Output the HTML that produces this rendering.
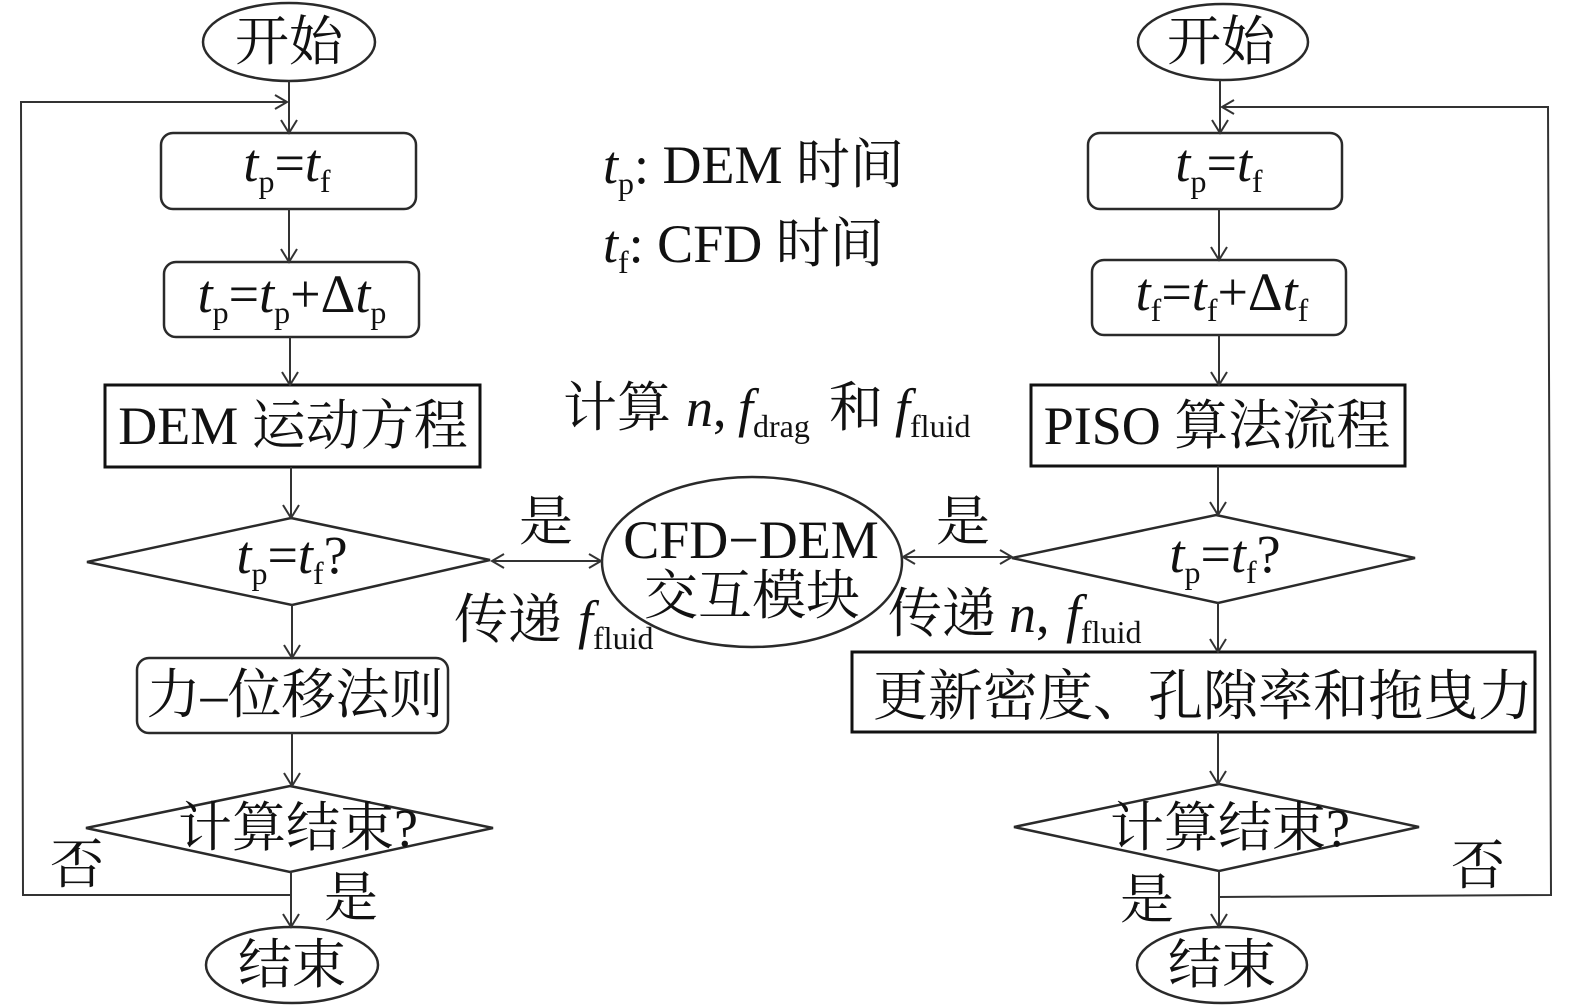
<!DOCTYPE html>
<html><head><meta charset="utf-8">
<style>
html,body{margin:0;padding:0;background:#fff;}
svg{display:block;}
text{font-family:"Liberation Serif","Noto Serif CJK SC",serif;font-size:54px;fill:#111;}
.s{font-size:32px;font-style:normal;}
.i{font-style:italic;}
</style></head>
<body>
<svg width="1575" height="1008" viewBox="0 0 1575 1008" xmlns="http://www.w3.org/2000/svg">
<g fill="none" stroke="#2a2a2a" stroke-width="2.5">
  <!-- LEFT shapes -->
  <ellipse cx="289" cy="42" rx="86" ry="39"/>
  <rect x="161" y="133" width="255" height="76" rx="12"/>
  <rect x="164" y="262" width="255" height="75" rx="12"/>
  <rect x="105" y="385" width="375" height="82" stroke="#111" stroke-width="3"/>
  <polygon points="291,518 490,560 292,605 87,562"/>
  <rect x="137" y="658" width="311" height="75" rx="12"/>
  <polygon points="290,786 493,828 290,872 86,828"/>
  <ellipse cx="292" cy="965" rx="86" ry="38"/>
  <!-- RIGHT shapes -->
  <ellipse cx="1223" cy="42" rx="85" ry="38"/>
  <rect x="1088" y="133" width="254" height="76" rx="12"/>
  <rect x="1092" y="260" width="254" height="75" rx="12"/>
  <rect x="1031" y="385" width="374" height="81" stroke="#111" stroke-width="3"/>
  <polygon points="1216,515 1415,558 1218,603 1012,558"/>
  <rect x="852" y="652" width="683" height="80" stroke="#111" stroke-width="3"/>
  <polygon points="1219,784 1419,827 1219,871 1014,827"/>
  <ellipse cx="1222" cy="965" rx="85" ry="38"/>
  <!-- CENTER -->
  <ellipse cx="752" cy="562" rx="150" ry="85"/>
</g>

<g fill="none" stroke="#333" stroke-width="2">
  <!-- left verticals -->
  <line x1="289" y1="81" x2="289" y2="133"/><polyline points="281,120 289,133 297,120"/>
  <line x1="289" y1="209" x2="289" y2="262"/><polyline points="281,249 289,262 297,249"/>
  <line x1="290" y1="337" x2="290" y2="385"/><polyline points="282,372 290,385 298,372"/>
  <line x1="291" y1="467" x2="291" y2="518"/><polyline points="283,505 291,518 299,505"/>
  <line x1="292" y1="605" x2="292" y2="658"/><polyline points="284,645 292,658 300,645"/>
  <line x1="292" y1="733" x2="292" y2="786"/><polyline points="284,773 292,786 300,773"/>
  <line x1="291" y1="872" x2="291" y2="927"/><polyline points="283,914 291,927 299,914"/>
  <!-- left loop -->
  <polyline points="291,895 23,895 21,102 287,102"/>
  <polyline points="275,95 287,102 275,109"/>
  <!-- right verticals -->
  <line x1="1220" y1="80" x2="1220" y2="133"/><polyline points="1212,120 1220,133 1228,120"/>
  <line x1="1219" y1="209" x2="1219" y2="260"/><polyline points="1211,247 1219,260 1227,247"/>
  <line x1="1219" y1="335" x2="1219" y2="385"/><polyline points="1211,372 1219,385 1227,372"/>
  <line x1="1218" y1="466" x2="1218" y2="515"/><polyline points="1210,502 1218,515 1226,502"/>
  <line x1="1218" y1="603" x2="1218" y2="652"/><polyline points="1210,639 1218,652 1226,639"/>
  <line x1="1218" y1="732" x2="1218" y2="784"/><polyline points="1210,771 1218,784 1226,771"/>
  <line x1="1219" y1="871" x2="1219" y2="927"/><polyline points="1211,914 1219,927 1227,914"/>
  <!-- right loop -->
  <polyline points="1219,897 1551,895 1548,107 1222,107"/>
  <polyline points="1234,100 1222,107 1234,114"/>
  <!-- bidirectional arrows -->
  <line x1="492" y1="561" x2="601" y2="561"/>
  <polyline points="504,554 492,561 504,568"/>
  <polyline points="589,554 601,561 589,568"/>
  <line x1="903" y1="557" x2="1012" y2="557"/>
  <polyline points="915,550 903,557 915,564"/>
  <polyline points="1000,550 1012,557 1000,564"/>
</g>

<!-- LEFT texts -->
<text x="289" y="60" text-anchor="middle">开始</text>
<text x="287" y="181" text-anchor="middle"><tspan class="i">t</tspan><tspan class="s" dy="11">p</tspan><tspan dy="-11">=</tspan><tspan class="i">t</tspan><tspan class="s" dy="11">f</tspan></text>
<text x="292" y="312" text-anchor="middle"><tspan class="i">t</tspan><tspan class="s" dy="11">p</tspan><tspan dy="-11">=</tspan><tspan class="i">t</tspan><tspan class="s" dy="11">p</tspan><tspan dy="-11">+Δ</tspan><tspan class="i">t</tspan><tspan class="s" dy="11">p</tspan></text>
<text x="293" y="444" text-anchor="middle">DEM 运动方程</text>
<text x="292" y="573" text-anchor="middle"><tspan class="i">t</tspan><tspan class="s" dy="11">p</tspan><tspan dy="-11">=</tspan><tspan class="i">t</tspan><tspan class="s" dy="11">f</tspan><tspan dy="-11">?</tspan></text>
<text x="295" y="713" text-anchor="middle">力–位移法则</text>
<text x="178" y="846">计算结束?</text>
<text x="77" y="883" text-anchor="middle">否</text>
<text x="351" y="916" text-anchor="middle">是</text>
<text x="292" y="983" text-anchor="middle">结束</text>

<!-- RIGHT texts -->
<text x="1221" y="60" text-anchor="middle">开始</text>
<text x="1219" y="181" text-anchor="middle"><tspan class="i">t</tspan><tspan class="s" dy="11">p</tspan><tspan dy="-11">=</tspan><tspan class="i">t</tspan><tspan class="s" dy="11">f</tspan></text>
<text x="1222" y="310" text-anchor="middle"><tspan class="i">t</tspan><tspan class="s" dy="11">f</tspan><tspan dy="-11">=</tspan><tspan class="i">t</tspan><tspan class="s" dy="11">f</tspan><tspan dy="-11">+Δ</tspan><tspan class="i">t</tspan><tspan class="s" dy="11">f</tspan></text>
<text x="1217" y="444" text-anchor="middle">PISO 算法流程</text>
<text x="1225" y="572" text-anchor="middle"><tspan class="i">t</tspan><tspan class="s" dy="11">p</tspan><tspan dy="-11">=</tspan><tspan class="i">t</tspan><tspan class="s" dy="11">f</tspan><tspan dy="-11">?</tspan></text>
<text x="1203" y="715" text-anchor="middle" style="font-size:55px">更新密度、孔隙率和拖曳力</text>
<text x="1110" y="846">计算结束?</text>
<text x="1478" y="884" text-anchor="middle">否</text>
<text x="1147" y="918" text-anchor="middle">是</text>
<text x="1222" y="983" text-anchor="middle">结束</text>

<!-- CENTER texts -->
<text x="603" y="183"><tspan class="i">t</tspan><tspan class="s" dy="11">p</tspan><tspan dy="-11">: DEM 时间</tspan></text>
<text x="603" y="262"><tspan class="i">t</tspan><tspan class="s" dy="11">f</tspan><tspan dy="-11">: CFD 时间</tspan></text>
<text y="426"><tspan x="563">计算</tspan><tspan x="686" class="i">n</tspan><tspan>,</tspan><tspan x="738" class="i">f</tspan><tspan class="s" dy="11">drag</tspan><tspan x="829" dy="-11">和</tspan><tspan x="895" class="i">f</tspan><tspan class="s" dy="11">fluid</tspan></text>
<text x="546" y="540" text-anchor="middle">是</text>
<text x="963" y="540" text-anchor="middle">是</text>
<text x="751" y="558" text-anchor="middle">CFD−DEM</text>
<text x="752" y="614" text-anchor="middle">交互模块</text>
<text y="638"><tspan x="454">传递</tspan><tspan x="578" class="i">f</tspan><tspan class="s" dy="11">fluid</tspan></text>
<text y="632"><tspan x="888">传递</tspan><tspan x="1009" class="i">n</tspan><tspan>,</tspan><tspan x="1066" class="i">f</tspan><tspan class="s" dy="11">fluid</tspan></text>
</svg>
</body></html>
